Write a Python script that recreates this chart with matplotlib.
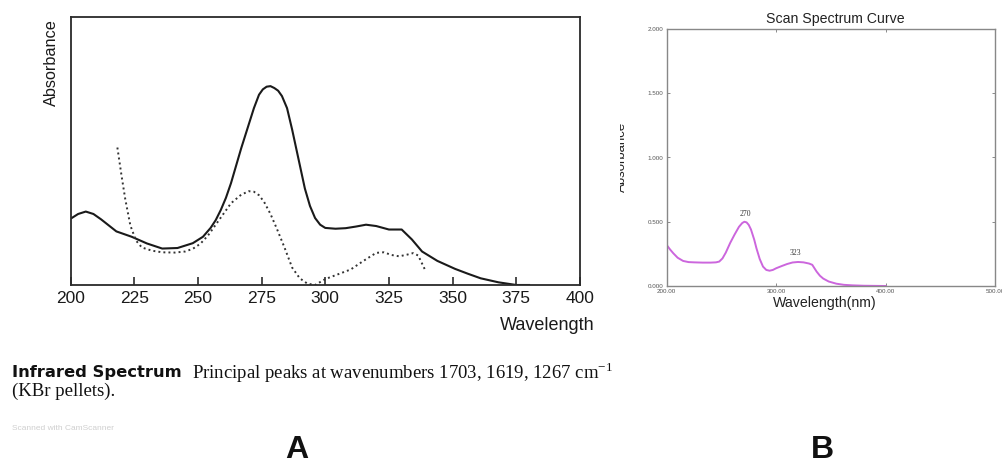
import numpy as np
import matplotlib.pyplot as plt
from matplotlib.transforms import Bbox

plt.rcParams['font.family'] = ['Liberation Sans', 'DejaVu Sans']

# Panel A - scanned UV spectrum (arbitrary units, 0 = baseline of box)
wl_a_solid = [200, 203, 206, 209, 212, 218, 224, 230, 236, 242, 248, 252, 255, 257,
              259, 261, 263, 265, 267, 270, 272, 274, 275.5, 277, 278.5, 280, 281.5,
              283, 285, 287, 289.5, 292, 294, 296, 298, 300, 304, 308, 312, 316, 320,
              325, 330, 334, 338, 344, 351, 356, 361, 368, 375, 380]
abs_a_solid = [0.247, 0.265, 0.274, 0.265, 0.245, 0.20, 0.18, 0.155, 0.136, 0.138,
               0.156, 0.18, 0.213, 0.242, 0.28, 0.325, 0.38, 0.445, 0.51, 0.60, 0.66,
               0.71, 0.73, 0.74, 0.742, 0.735, 0.725, 0.705, 0.66, 0.58, 0.47, 0.36,
               0.295, 0.25, 0.225, 0.213, 0.21, 0.212, 0.218, 0.225, 0.22, 0.207,
               0.207, 0.17, 0.125, 0.09, 0.06, 0.042, 0.025, 0.01, 0.0, 0.0]

wl_a_dot = [218.4, 220, 221.5, 223.5, 225.7, 228, 232, 236, 241, 245, 248, 251, 254,
            257, 260, 263, 267, 270, 272, 274, 276, 278.5, 281, 284, 287, 290, 293,
            296, 300, 305, 310, 315, 320, 323, 326, 329, 332, 334.5, 336.5, 338, 339.5]
abs_a_dot = [0.513, 0.41, 0.32, 0.222, 0.166, 0.14, 0.128, 0.122, 0.121, 0.125, 0.135,
             0.154, 0.185, 0.225, 0.265, 0.305, 0.337, 0.35, 0.348, 0.335, 0.31, 0.265,
             0.21, 0.14, 0.065, 0.025, 0.005, 0.0, 0.022, 0.04, 0.058, 0.09, 0.12,
             0.122, 0.112, 0.107, 0.113, 0.119, 0.11, 0.08, 0.05]
xticks_a = [200, 225, 250, 275, 300, 325, 350, 375, 400]

# Panel B - instrument scan
wl_b = [200, 203, 206, 210, 215, 220, 225, 233, 240, 245, 248, 251, 254, 258, 262,
        266, 269, 271, 273, 275, 277, 280, 282, 285, 288, 291, 294, 297, 300, 305,
        310, 315, 320, 325, 330, 333, 337, 340, 343, 348, 355, 362, 370, 380, 390, 400]
abs_b = [0.319, 0.285, 0.255, 0.22, 0.195, 0.186, 0.184, 0.182, 0.182, 0.184, 0.19,
         0.215, 0.26, 0.335, 0.40, 0.46, 0.49, 0.50, 0.495, 0.475, 0.44, 0.36, 0.294,
         0.21, 0.151, 0.125, 0.119, 0.125, 0.138, 0.155, 0.171, 0.183, 0.187, 0.184,
         0.175, 0.165, 0.112, 0.08, 0.058, 0.035, 0.018, 0.009, 0.005, 0.002, 0.001, 0.0]
xticks_b = [200, 300, 400, 500]
yticks_b = [0.0, 0.5, 1.0, 1.5, 2.0]
peak_pos = [272, 318]
peak_val = [0.53, 0.225]
peak_txt = ['270', '323']

W, H = 1003, 463
fig = plt.figure(figsize=(W / 100, H / 100), dpi=100)

# ---- panel A ----
axA = fig.add_axes([70.5 / W, 1 - 285 / H, 509.5 / W, 268 / H])
axA.plot(wl_a_solid, abs_a_solid, color='#1a1a1a', lw=1.5)
axA.plot(wl_a_dot, abs_a_dot, color='#333333', lw=1.4, ls=(0, (1, 1.6)))
axA.set_xlim(200, 400)
axA.set_ylim(0, 1)
axA.set_xticks(xticks_a)
axA.set_yticks([])
axA.tick_params(axis='x', direction='in', length=6, width=1.1, pad=4,
                labelsize=12.5, colors='#1a1a1a')
for s in axA.spines.values():
    s.set_linewidth(1.3)
    s.set_color('#2a2a2a')

fig.text(51.7 / W, 1 - 19 / H, 'Absorbance', rotation=90, ha='center', va='top',
         fontsize=11.7, color='#1a1a1a')
fig.text(595 / W, 1 - 326 / H, 'Wavelength', ha='right', va='center',
         fontsize=13, color='#1a1a1a')

# caption text under panel A
fig.text(12 / W, 1 - 373 / H, 'Infrared Spectrum', family=['DejaVu Sans'],
         fontweight='bold', fontsize=11.8, va='center', color='#111111')
fig.text(192 / W, 1 - 373 / H,
         r'Principal peaks at wavenumbers 1703, 1619, 1267 cm$^{\mathregular{-1}}$',
         family=['Liberation Serif', 'DejaVu Serif'], fontsize=13.5, va='center',
         color='#111111')
fig.text(12 / W, 1 - 391 / H, '(KBr pellets).', family=['Liberation Serif', 'DejaVu Serif'],
         fontsize=13.5, va='center', color='#111111')
fig.text(12 / W, 1 - 428 / H, 'Scanned with CamScanner', fontsize=6, va='center',
         color='#cfcfcf')

# ---- panel B ----
axB = fig.add_axes([666.7 / W, 1 - 286 / H, 328.3 / W, 257 / H])
axB.plot(wl_b, abs_b, color='#cc66dd', lw=1.4)
axB.set_xlim(200, 500)
axB.set_ylim(0, 2)
axB.set_xticks(xticks_b)
axB.set_xticklabels(['%.2f' % v for v in xticks_b])
axB.set_yticks(yticks_b)
axB.set_yticklabels(['%.3f' % v for v in yticks_b])
axB.tick_params(direction='in', length=2.5, width=0.6, color='#777777',
                labelsize=4.5, labelcolor='#555555', pad=2.5,
                top=True, right=True)
for s in axB.spines.values():
    s.set_linewidth(1.0)
    s.set_color('#888888')
for x, y, t in zip(peak_pos, peak_val, peak_txt):
    axB.text(x, y, t, ha='center', va='bottom', fontsize=5.5,
             family=['Liberation Serif', 'DejaVu Serif'], color='#333333')

fig.text(835 / W, 1 - 18.5 / H, 'Scan Spectrum Curve', ha='center', va='center',
         fontsize=10.2, color='#222222')
fig.text(825 / W, 1 - 303 / H, 'Wavelength(nm)', ha='center', va='center',
         fontsize=10.2, color='#222222')
# y label of panel B is cut by the left edge of the screenshot
ylab = fig.text(628 / W, 1 - 157 / H, 'Absorbance', rotation=90, ha='right',
                va='center', fontsize=9.5, color='#222222')
ylab.set_clip_box(Bbox.from_extents(620, 0, W, H))
ylab.set_clip_on(True)

# panel letters
fig.text(297 / W, 1 - 450 / H, 'A', ha='center', va='center', fontsize=23,
         fontweight='bold', color='#111111')
fig.text(822 / W, 1 - 450 / H, 'B', ha='center', va='center', fontsize=23,
         fontweight='bold', color='#111111')

fig.savefig('out.png', dpi=100)
